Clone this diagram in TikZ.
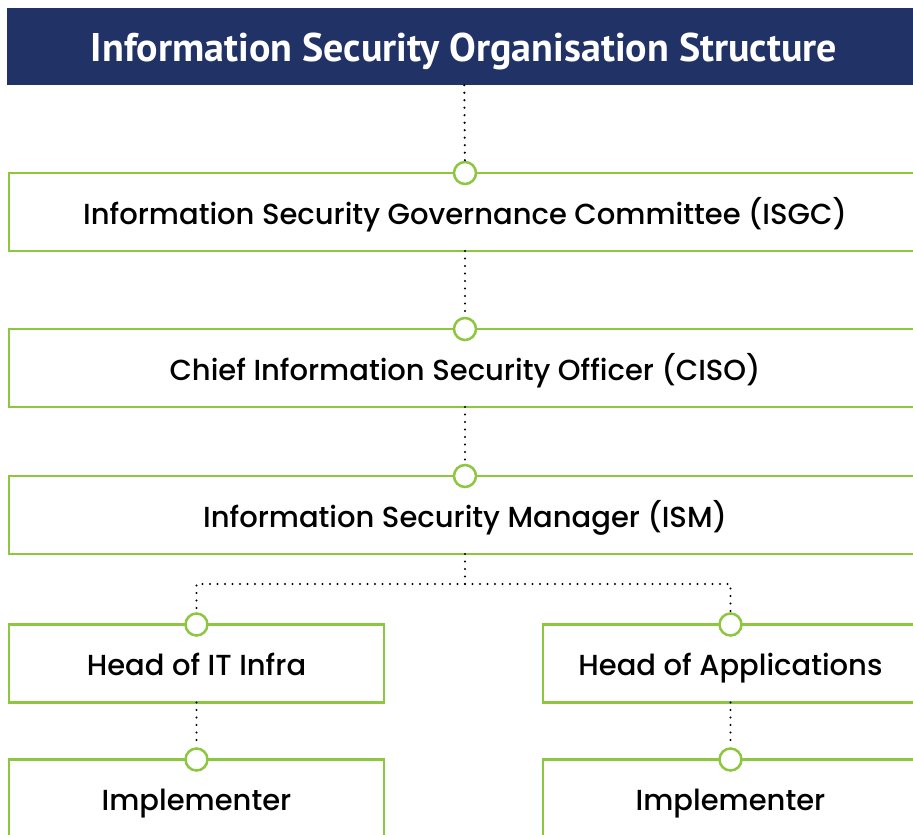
\documentclass[tikz,border=0pt]{standalone}
\usepackage{fontspec}
\setmainfont{Poppins}[UprightFont={* Medium}]
\newfontfamily\headfont{PT Sans}
\usetikzlibrary{positioning}
\definecolor{navy}{HTML}{213366}
\definecolor{leaf}{HTML}{8DC63F}

\begin{document}
\begin{tikzpicture}[x=1pt,y=-1pt, every node/.style={font=\fontsize{29}{34}\selectfont}, role/.style={draw=leaf,line width=2.5pt,fill=white,minimum height=78pt,inner sep=0pt,outer sep=0pt,text height=26pt,text depth=2pt}, wide/.style={role,minimum width=912pt}, half/.style={role,minimum width=375pt}, knob/.style={circle,draw=leaf,line width=2.5pt,fill=white,minimum size=22pt,inner sep=0pt}, link/.style={line width=2.4pt,line cap=round,dash pattern=on 0pt off 7.5pt}]
\clip (0,0) rectangle (913,835);
\node[fill=navy,minimum width=914pt,minimum height=77pt,inner sep=0pt,text height=30pt,text depth=0pt,text=white,font=\headfont\bfseries\fontsize{40}{46}\selectfont] (title) at (464,46.5) {Information Security Organisation Structure};
\node[wide] (isgc) at (465,212) {Information Security Governance Committee (ISGC)};
\node[wide,below=78pt of isgc] (ciso) {Chief Information Security Officer (CISO)};
\node[wide,below=69pt of ciso] (ism) {Information Security Manager (ISM)};
\node[half] (infra) at (196.5,663.5) {Head of IT Infra};
\node[half,right=159pt of infra] (apps) {Head of Applications};
\node[half,below=57pt of infra] (impl1) {Implementer};
\node[half,below=57pt of apps] (impl2) {Implementer};
% joints on the top edges
\node[knob] (k1) at (isgc.north) {};
\node[knob] (k2) at (ciso.north) {};
\node[knob] (k3) at (ism.north) {};
\node[knob] (k4) at (infra.north) {};
\node[knob] (k5) at (apps.north) {};
\node[knob] (k6) at (impl1.north) {};
\node[knob] (k7) at (impl2.north) {};
\coordinate (fork) at (465,584);
\draw[link] (title)--(k1);\draw[link] (isgc)--(k2);\draw[link] (ciso)--(k3);\draw[link] (ism)--(fork)-|(k4);\draw[link] (fork)-|(k5);\draw[link] (infra)--(k6);\draw[link] (apps)--(k7);
\end{tikzpicture}
\end{document}
